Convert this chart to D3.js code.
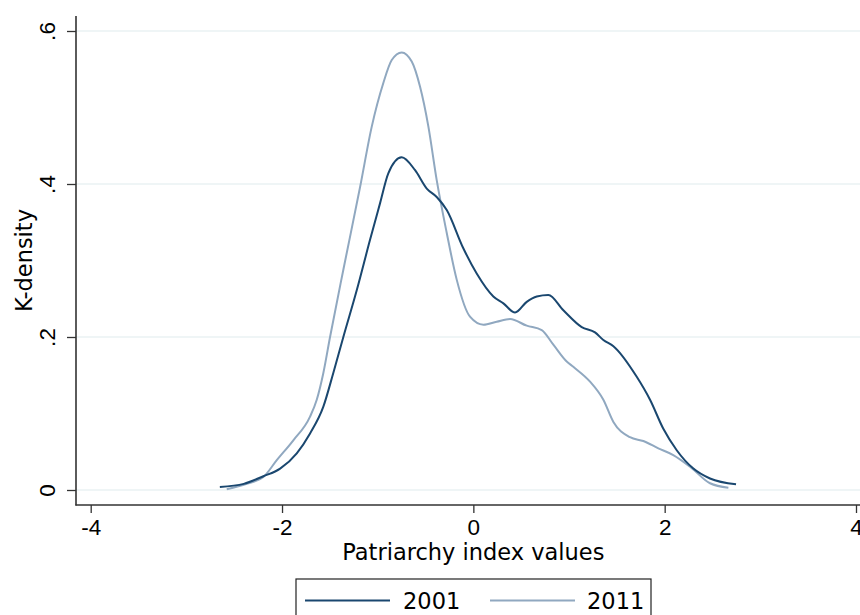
<!DOCTYPE html>
<html>
<head>
<meta charset="utf-8">
<script src="https://cdn.jsdelivr.net/npm/d3@7"></script>
<style>
  html, body { margin: 0; padding: 0; background: #fff; }
  svg { display: block; font-family: "DejaVu Sans", sans-serif; }
</style>
</head>
<body>
<svg id="chart" width="860" height="615"></svg>
<script>
// ---- data ----
const seriesNames = ["2001", "2011"];
const x2001 = [-2.65, -2.40, -2.195, -2.02, -1.846, -1.707, -1.568, -1.464, -1.359, -1.219, -1.08, -0.975, -0.889, -0.749, -0.609, -0.487, -0.383, -0.278, -0.105, 0.035, 0.209, 0.314, 0.436, 0.558, 0.663, 0.784, 0.941, 1.133, 1.272, 1.359, 1.464, 1.708, 1.847, 1.986, 2.126, 2.30, 2.474, 2.746];
const y2001 = [0.004, 0.008, 0.018, 0.028, 0.048, 0.074, 0.109, 0.153, 0.200, 0.261, 0.327, 0.375, 0.414, 0.435, 0.418, 0.394, 0.383, 0.366, 0.316, 0.283, 0.253, 0.244, 0.232, 0.246, 0.253, 0.255, 0.235, 0.213, 0.206, 0.196, 0.188, 0.148, 0.118, 0.080, 0.052, 0.028, 0.015, 0.0074];
const x2011 = [-2.578, -2.369, -2.195, -2.055, -1.882, -1.707, -1.637, -1.568, -1.498, -1.359, -1.184, -1.062, -0.941, -0.853, -0.749, -0.644, -0.557, -0.470, -0.383, -0.278, -0.174, -0.035, 0.105, 0.244, 0.384, 0.558, 0.715, 0.836, 0.976, 1.045, 1.22, 1.359, 1.464, 1.638, 1.777, 1.934, 2.09, 2.265, 2.474, 2.666];
const y2011 = [0.001, 0.008, 0.017, 0.039, 0.065, 0.096, 0.118, 0.153, 0.200, 0.288, 0.396, 0.475, 0.532, 0.562, 0.572, 0.560, 0.527, 0.475, 0.405, 0.336, 0.275, 0.2265, 0.216, 0.220, 0.2235, 0.2148, 0.209, 0.190, 0.168, 0.161, 0.1416, 0.118, 0.089, 0.069, 0.064, 0.0545, 0.0457, 0.0305, 0.0088, 0.003];
const xTicks = [-4, -2, 0, 2, 4];
const xTickLabels = ["-4", "-2", "0", "2", "4"];
const yTicks = [0, 0.2, 0.4, 0.6];
const yTickLabels = ["0", ".2", ".4", ".6"];
const xTitle = "Patriarchy index values";
const yTitle = "K-density";

// ---- layout ----
const colors = ["#1a476f", "#90a8c0"];
const svg = d3.select("#chart");
const plotLeft = 76, plotRight = 871, plotTop = 16, plotBottom = 505;
const x = d3.scaleLinear().domain([-4, 4]).range([90.7, 856]);
const y = d3.scaleLinear().domain([0, 0.6]).range([490, 31]);
const fontSize = 22.5;

// grid lines
svg.append("g").selectAll("line").data(yTicks).join("line")
  .attr("x1", plotLeft).attr("x2", plotRight)
  .attr("y1", d => y(d)).attr("y2", d => y(d))
  .attr("stroke", "#eaf2f3").attr("stroke-width", 1.6);

// axes
const axisColor = "#333";
const yAxis = d3.axisLeft(y).tickValues(yTicks).tickSize(9).tickFormat("");
const gy = svg.append("g").attr("transform", `translate(${plotLeft},0)`).call(yAxis);
gy.select(".domain").remove();
gy.selectAll(".tick line").attr("stroke", axisColor).attr("stroke-width", 1.3);
gy.selectAll(".tick").append("text")
  .attr("transform", "translate(-21,0) rotate(-90)")
  .attr("text-anchor", "middle")
  .attr("fill", "#000")
  .attr("font-size", fontSize)
  .text((d, i) => yTickLabels[i]);

const xAxis = d3.axisBottom(x).tickValues(xTicks).tickSize(8).tickFormat("");
const gx = svg.append("g").attr("transform", `translate(0,${plotBottom})`).call(xAxis);
gx.select(".domain").remove();
gx.selectAll(".tick line").attr("stroke", axisColor).attr("stroke-width", 1.3);
gx.selectAll(".tick").append("text")
  .attr("y", 30)
  .attr("text-anchor", "middle")
  .attr("fill", "#000")
  .attr("font-size", fontSize)
  .text((d, i) => xTickLabels[i]);

svg.append("line").attr("x1", plotLeft).attr("x2", plotLeft)
  .attr("y1", plotTop).attr("y2", plotBottom + 0.6)
  .attr("stroke", axisColor).attr("stroke-width", 1.6);
svg.append("line").attr("x1", plotLeft - 0.6).attr("x2", plotRight)
  .attr("y1", plotBottom).attr("y2", plotBottom)
  .attr("stroke", axisColor).attr("stroke-width", 1.6);

// titles
svg.append("text").attr("x", x(0)).attr("y", 560)
  .attr("text-anchor", "middle").attr("font-size", fontSize).attr("fill", "#000")
  .text(xTitle);
svg.append("text").attr("transform", `translate(32,${(plotTop + plotBottom) / 2}) rotate(-90)`)
  .attr("text-anchor", "middle").attr("font-size", fontSize).attr("fill", "#000")
  .text(yTitle);

// curves
const line = d3.line().x(d => x(d[0])).y(d => y(d[1])).curve(d3.curveMonotoneX);
const series = [d3.zip(x2001, y2001), d3.zip(x2011, y2011)];
svg.append("path").datum(series[1]).attr("d", line)
  .attr("fill", "none").attr("stroke", colors[1]).attr("stroke-width", 2);
svg.append("path").datum(series[0]).attr("d", line)
  .attr("fill", "none").attr("stroke", colors[0]).attr("stroke-width", 2);

// legend
const lg = svg.append("g");
lg.append("rect").attr("x", 296).attr("y", 579).attr("width", 355).attr("height", 45)
  .attr("fill", "#fff").attr("stroke", "#222").attr("stroke-width", 1.2);
const legendItems = [
  { lx1: 305, lx2: 390, tx: 403 },
  { lx1: 490, lx2: 575, tx: 587 }
];
legendItems.forEach((it, i) => {
  lg.append("line").attr("x1", it.lx1).attr("x2", it.lx2).attr("y1", 600.5).attr("y2", 600.5)
    .attr("stroke", colors[i]).attr("stroke-width", 2);
  lg.append("text").attr("x", it.tx).attr("y", 609).attr("font-size", fontSize).attr("fill", "#000")
    .text(seriesNames[i]);
});
</script>
</body>
</html>
